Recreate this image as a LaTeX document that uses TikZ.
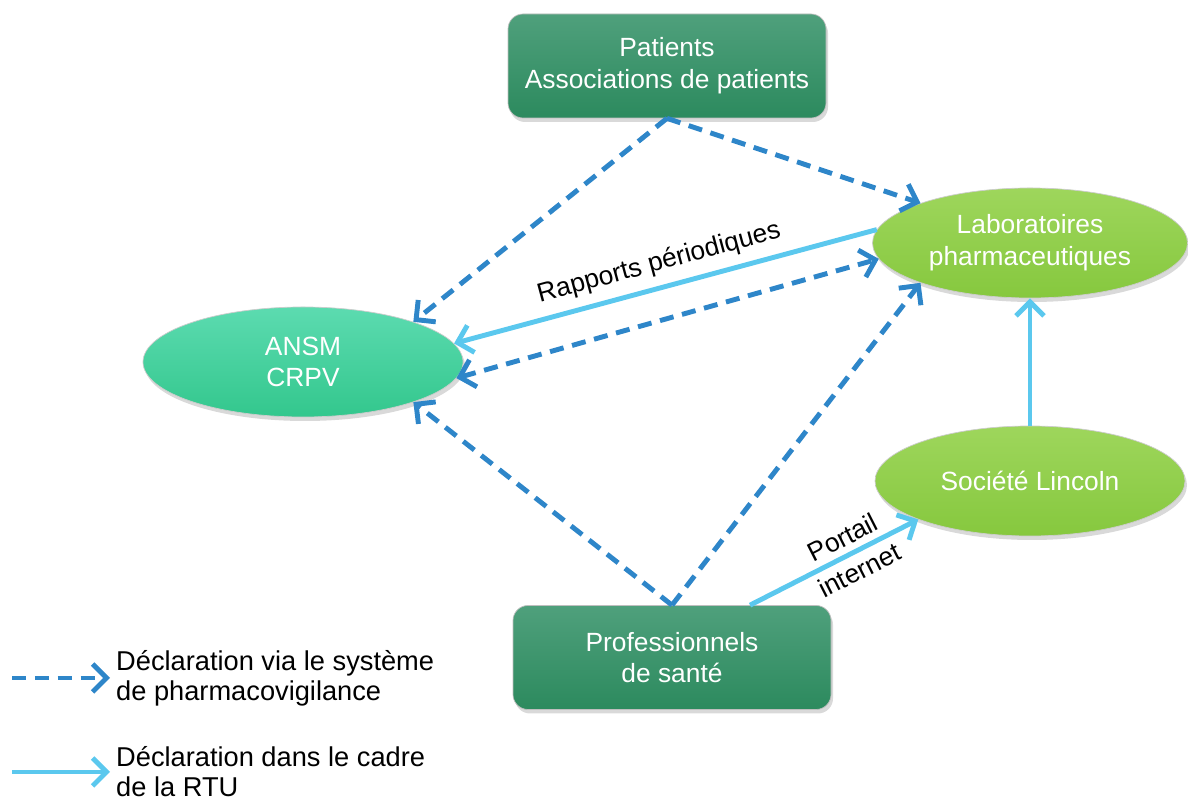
\documentclass[tikz,border=0pt]{standalone}
\usepackage{fontspec}
\setmainfont{Liberation Sans}
\usetikzlibrary{arrows.meta,shapes.geometric,shadows}
\definecolor{pvblue}{HTML}{2E86C9}
\definecolor{rtublue}{HTML}{5BC8EE}
\definecolor{boxtop}{HTML}{4FA07C}
\definecolor{boxbot}{HTML}{2C8A5E}
\definecolor{ansmtop}{HTML}{5CDBB0}
\definecolor{ansmbot}{HTML}{33C78D}
\definecolor{labtop}{HTML}{9ED65C}
\definecolor{labbot}{HTML}{86C83E}
\begin{document}
\begin{tikzpicture}[
  >={Straight Barb[length=2.8mm,width=5.6mm]},
  ombre/.style={drop shadow={opacity=0.3,shadow xshift=0.04cm,shadow yshift=-0.08cm}},
  boite/.style={rectangle,rounded corners=0.3cm,minimum width=6.36cm,minimum height=2.08cm,top color=boxtop,bottom color=boxbot,draw=black!25,align=center,text=white,font=\fontsize{15}{18}\selectfont,ombre},
  bulle/.style={ellipse,inner sep=0pt,minimum height=2.2cm,draw=black!20,align=center,text=white,font=\fontsize{15}{18}\selectfont,ombre},
  pvline/.style={->,pvblue,line width=2.8pt,dash pattern=on 8pt off 5pt},
  rtuline/.style={->,rtublue,line width=2.8pt},
  lbl/.style={font=\fontsize{15}{21}\selectfont,text=black,align=center},
  legende/.style={font=\fontsize{15.5}{17}\selectfont,text=black,align=left,anchor=west}
]
\useasboundingbox (0,0) rectangle (23.76,16);
\node[boite] (pat) at (13.34,14.68) {Patients\\Associations de patients};
\node[boite] (prof) at (13.44,2.85) {Professionnels\\de santé};
\node[bulle,minimum width=6.4cm,top color=ansmtop,bottom color=ansmbot] (ansm) at (6.06,8.76) {ANSM\\CRPV};
\node[bulle,minimum width=6.3cm,top color=labtop,bottom color=labbot] (labo) at (20.6,11.14) {Laboratoires\\pharmaceutiques};
\node[bulle,minimum width=6.2cm,top color=labtop,bottom color=labbot] (linc) at (20.6,6.38) {Société Lincoln};
\draw[pvline] (pat.south) -- (ansm.20);
\draw[pvline] (pat.south) -- (labo.160);
\draw[rtuline,<-] (ansm.7) -- node[sloped,above=2pt,lbl] {Rapports périodiques} (labo.175);
\draw[pvline,<->] (ansm.-6) -- (labo.186);
\draw[pvline] (prof.north) -- (ansm.-20);
\draw[pvline] (prof.north) -- (labo.200);
\draw[rtuline] ([xshift=1.56cm]prof.north) -- node[pos=0.6,sloped,lbl] {Portail\\internet} (linc.199);
\draw[rtuline] (linc.north) -- (labo.south);
\coordinate (lgpv) at (0.24,2.44);
\coordinate (lgrtu) at (0.24,0.56);
\node[legende] (txtpv) at (2.2,2.44) {Déclaration via le système\\de pharmacovigilance};
\node[legende] (txtrtu) at (2.2,0.56) {Déclaration dans le cadre\\de la RTU};
\draw[pvline] (lgpv) -- (txtpv.west);
\draw[rtuline] (lgrtu) -- (txtrtu.west);
\end{tikzpicture}
\end{document}
